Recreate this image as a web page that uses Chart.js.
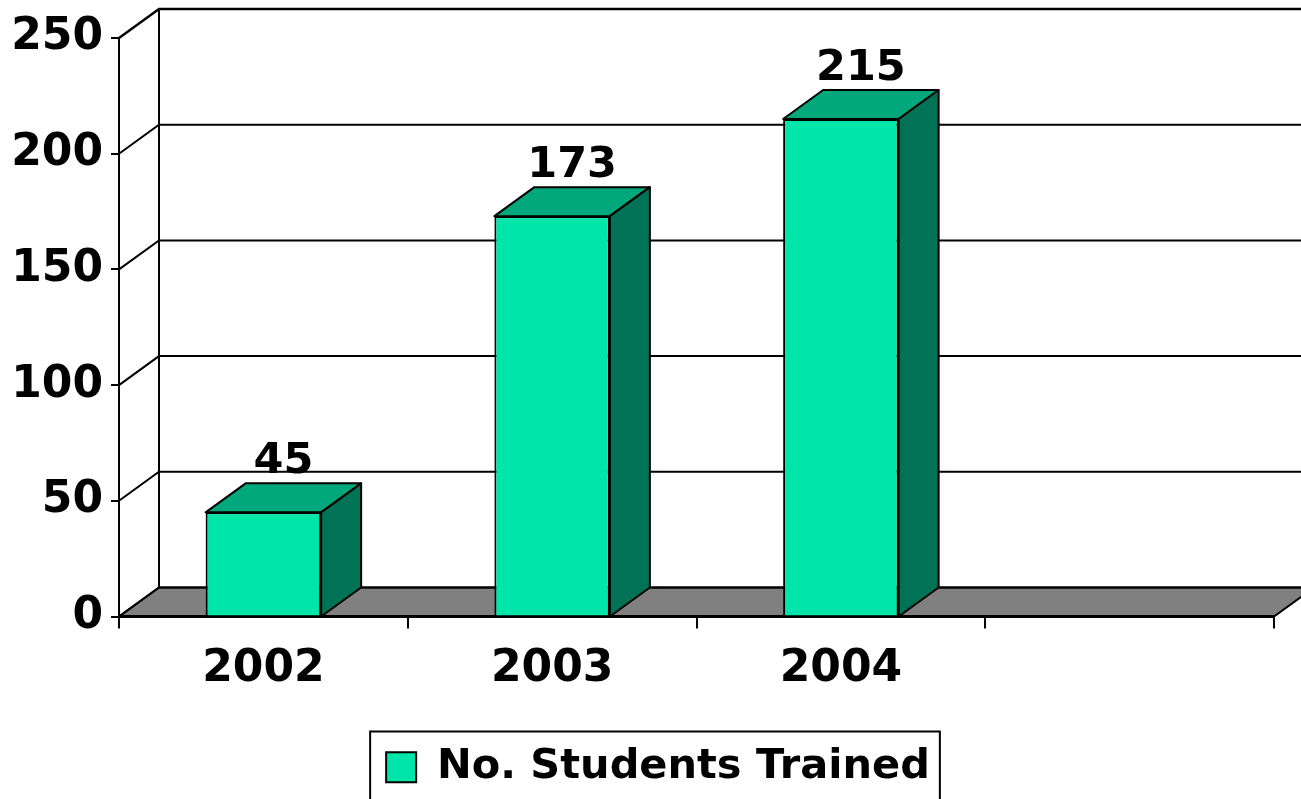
<!DOCTYPE html>
<html><head><meta charset="utf-8">
<script src="https://cdn.jsdelivr.net/npm/chart.js@4.4.1/dist/chart.umd.min.js"></script>
<style>html,body{margin:0;padding:0;background:#fff;overflow:hidden}canvas{display:block}</style>
</head><body>
<canvas id="c" width="1301" height="799"></canvas>
<script>
const categories = ['2002', '2003', '2004', ''];
const studentsTrained = [45, 173, 215, null];
const seriesLabel = 'No. Students Trained';
const yTicks = [0, 50, 100, 150, 200, 250];

const DX = 40, DY = 29;
const FRONT = '#00E5A9', TOP = '#00A87B', SIDE = '#007356', FLOOR = '#808080';
const FAMILY = '"DejaVu Sans", Verdana, sans-serif';
const LEGEND_SHIFT = 21;

const threeD = {
  id: 'threeD',
  afterLayout(chart) {
    const lg = chart.legend;
    if (lg) { lg.left += LEGEND_SHIFT; lg.right += LEGEND_SHIFT; }
  },
  beforeDatasetsDraw(chart) {
    const {ctx, chartArea: a, scales: {y}} = chart;
    const L = a.left, R = a.right, B = y.getPixelForValue(0);
    ctx.save();
    ctx.strokeStyle = '#000';
    // floor
    ctx.beginPath();
    ctx.moveTo(L, B); ctx.lineTo(R, B); ctx.lineTo(R + DX, B - DY); ctx.lineTo(L + DX, B - DY); ctx.closePath();
    ctx.fillStyle = FLOOR; ctx.fill();
    ctx.lineWidth = 2; ctx.stroke();
    // back wall gridlines + left wall diagonals
    yTicks.forEach(v => {
      const py = y.getPixelForValue(v);
      ctx.lineWidth = (v === yTicks[yTicks.length - 1]) ? 2.5 : 2;
      ctx.beginPath();
      ctx.moveTo(L, py); ctx.lineTo(L + DX, py - DY); ctx.lineTo(chart.width + 10, py - DY);
      ctx.stroke();
    });
    // back wall left vertical edge
    ctx.lineWidth = 2;
    ctx.beginPath();
    ctx.moveTo(L + DX, y.getPixelForValue(yTicks[yTicks.length - 1]) - DY);
    ctx.lineTo(L + DX, B - DY);
    ctx.stroke();
    // front bottom edge
    ctx.lineWidth = 3;
    ctx.beginPath(); ctx.moveTo(L, B); ctx.lineTo(R, B); ctx.stroke();
    ctx.restore();
  },
  afterDatasetsDraw(chart) {
    const {ctx, scales: {y}} = chart;
    const meta = chart.getDatasetMeta(0);
    const base = y.getPixelForValue(0);
    ctx.save();
    ctx.strokeStyle = '#000';
    ctx.lineWidth = 2;
    ctx.lineJoin = 'round';
    meta.data.forEach((bar, i) => {
      const v = studentsTrained[i];
      if (v === null || v === undefined) return;
      const p = bar.getProps(['x', 'y', 'width'], true);
      const x0 = p.x - p.width / 2, x1 = p.x + p.width / 2, t = p.y;
      // top face
      ctx.beginPath();
      ctx.moveTo(x0, t); ctx.lineTo(x1, t); ctx.lineTo(x1 + DX, t - DY); ctx.lineTo(x0 + DX, t - DY); ctx.closePath();
      ctx.fillStyle = TOP; ctx.fill(); ctx.stroke();
      // side face
      ctx.beginPath();
      ctx.moveTo(x1, t); ctx.lineTo(x1 + DX, t - DY); ctx.lineTo(x1 + DX, base - DY); ctx.lineTo(x1, base); ctx.closePath();
      ctx.fillStyle = SIDE; ctx.fill(); ctx.stroke();
      // value label
      ctx.fillStyle = '#000';
      ctx.font = 'bold 43px ' + FAMILY;
      ctx.textAlign = 'center';
      ctx.textBaseline = 'alphabetic';
      ctx.fillText(String(v), p.x + DX / 2, t - DY - 10);
    });
    ctx.restore();
  },
  afterDraw(chart) {
    const lg = chart.legend;
    if (!lg || !lg.legendHitBoxes || !lg.legendHitBoxes.length) return;
    const hb = lg.legendHitBoxes[0];
    const {ctx} = chart;
    ctx.save();
    ctx.strokeStyle = '#000';
    ctx.lineWidth = 2;
    ctx.strokeRect(hb.left - 16, lg.top, hb.width + 26, chart.height - lg.top + 20);
    ctx.restore();
  }
};

const tickFont = {family: FAMILY, size: 44, weight: 'bold'};

new Chart(document.getElementById('c'), {
  type: 'bar',
  data: {
    labels: categories,
    datasets: [{
      label: seriesLabel,
      data: studentsTrained,
      backgroundColor: FRONT,
      borderColor: '#000',
      borderWidth: 2,
      barPercentage: 0.4,
      categoryPercentage: 1.0
    }]
  },
  options: {
    responsive: false,
    animation: false,
    devicePixelRatio: 1,
    layout: {padding: {top: 38, right: 27, bottom: 1, left: 0}},
    plugins: {
      legend: {
        position: 'bottom',
        labels: {font: {family: FAMILY, size: 41.5, weight: 'bold'}, color: '#000', boxWidth: 30, boxHeight: 30, padding: 15}
      },
      tooltip: {enabled: false}
    },
    scales: {
      x: {
        grid: {display: true, drawOnChartArea: false, color: '#000', lineWidth: 2, tickLength: 12, offset: true},
        border: {display: false},
        ticks: {font: tickFont, color: '#000', padding: 15, maxRotation: 0, autoSkip: false},
        afterFit(s) { s.height = 115; }
      },
      y: {
        min: 0, max: 250,
        ticks: {stepSize: 50, font: tickFont, color: '#000', padding: 8},
        grid: {display: true, drawOnChartArea: false, color: '#000', lineWidth: 2, tickLength: 8},
        border: {display: true, color: '#000', width: 2},
        afterFit(s) { s.width = 119; }
      }
    }
  },
  plugins: [threeD]
});
</script>
</body></html>
